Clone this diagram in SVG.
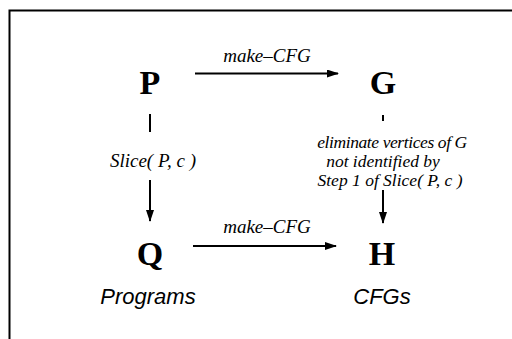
<svg xmlns="http://www.w3.org/2000/svg" width="512" height="339" viewBox="0 0 512 339">
<style>
.node{font-family:"Liberation Serif",serif;font-weight:bold;font-size:34px;text-anchor:middle;fill:#000}
.lbl{font-family:"Liberation Serif",serif;font-style:italic;font-size:19px;text-anchor:middle;fill:#000}
.el{font-family:"Liberation Serif",serif;font-style:italic;font-size:17.5px;text-anchor:middle;fill:#000}
.cap{font-family:"Liberation Sans",sans-serif;font-style:italic;font-size:22px;text-anchor:middle;fill:#000}
.ln{stroke:#000;stroke-width:2;fill:none}
</style>
<defs>
<marker id="ah" markerWidth="12" markerHeight="8" refX="11" refY="4" orient="auto" markerUnits="userSpaceOnUse">
<path d="M0,0 L12,4 L0,8 Z" fill="#000"/>
</marker>
</defs>
<rect width="512" height="339" fill="#fff"/>
<polyline class="ln" points="9.5,339 9.5,10.5 512,10.5" stroke-width="2.5"/>
<g id="P"><text class="node" x="150" y="94">P</text></g>
<g id="G"><text class="node" x="383" y="94">G</text></g>
<g id="Q"><text class="node" x="150" y="265">Q</text></g>
<g id="H"><text class="node" x="382" y="265">H</text></g>
<g id="connectors">
<line class="ln" x1="195" y1="73.5" x2="338" y2="73.5" marker-end="url(#ah)"/>
<text class="lbl" x="267" y="62">make–CFG</text>
<line class="ln" x1="193" y1="246" x2="336" y2="246" marker-end="url(#ah)"/>
<text class="lbl" x="267" y="233">make–CFG</text>
<line class="ln" x1="150" y1="114" x2="150" y2="132"/>
<text class="lbl" x="153" y="167">Slice( P, c )</text>
<line class="ln" x1="383" y1="115" x2="383" y2="121"/>
<text class="el" x="392" y="148" letter-spacing="-0.4">eliminate vertices of G</text>
<text class="el" x="383" y="167">not identified by</text>
<text class="el" x="390" y="186">Step 1 of Slice( P, c )</text>
<line class="ln" x1="150" y1="180" x2="150" y2="221" marker-end="url(#ah)"/>
<line class="ln" x1="383" y1="190" x2="383" y2="223" marker-end="url(#ah)"/>
</g>
<text class="cap" x="148" y="304">Programs</text>
<text class="cap" x="382" y="304">CFGs</text>
</svg>
